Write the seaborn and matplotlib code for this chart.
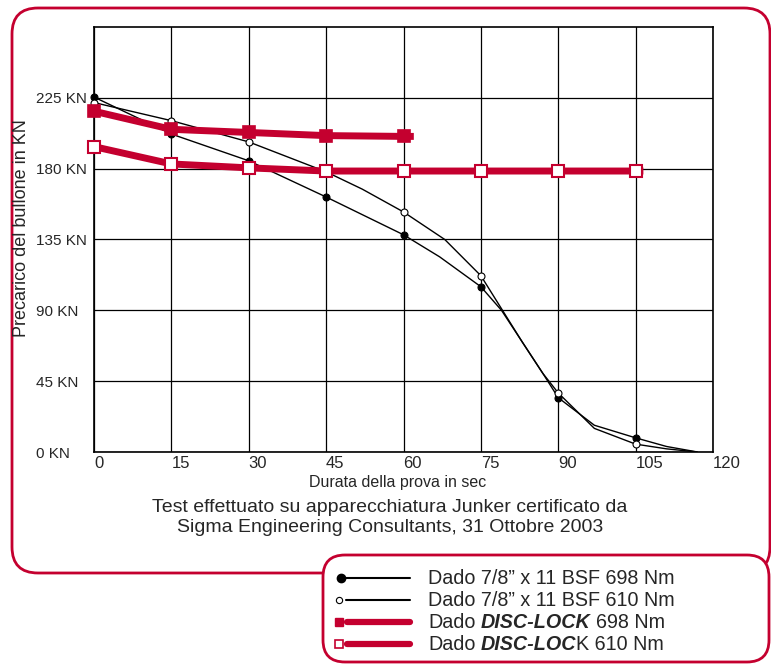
import numpy as np
import pandas as pd
import matplotlib
matplotlib.use("Agg")
import matplotlib.pyplot as plt
import seaborn as sns
from matplotlib.patches import FancyBboxPatch
from matplotlib.lines import Line2D

# Dati (tempo in sec, precarico in KN)
t_bsf_698 = [0, 15, 30, 45, 60, 67, 75, 79, 83, 87, 90, 97, 105, 111, 117]
y_bsf_698 = [225.5, 202, 185, 162, 138, 124, 105, 90, 70, 50, 34.5, 17, 9, 3.5, 0]
t_bsf_610 = [0, 15, 30, 45, 52, 60, 68, 75, 79, 83, 87, 90, 97, 105, 111, 117]
y_bsf_610 = [222, 210.5, 197, 178, 167, 152.5, 135, 112, 91, 70, 50, 37.5, 15, 5, 2, 0]
t_disc_698 = [0, 15, 30, 45, 60, 62]
y_disc_698 = [216.5, 205, 203, 201, 200.5, 200.5]
t_disc_610 = [0, 15, 30, 45, 60, 75, 90, 105, 106.5]
y_disc_610 = [194, 183, 180.5, 178.5, 178.5, 178.5, 178.5, 178.5, 178.5]
marker_times = [0, 15, 30, 45, 60, 75, 90, 105]

x_ticks = [0, 15, 30, 45, 60, 75, 90, 105, 120]
y_ticks = [0, 45, 90, 135, 180, 225]
y_labels = ["0 KN", "45 KN", "90 KN", "135 KN", "180 KN", "225 KN"]

RED = "#c4002f"

sns.set_theme(style="white")
plt.rcParams["font.family"] = ["Liberation Sans", "DejaVu Sans"]

fig = plt.figure(figsize=(7.71, 6.64), dpi=100)

# sfondo in pixel per i riquadri arrotondati
bg = fig.add_axes([0, 0, 1, 1], zorder=0)
bg.set_xlim(0, 771)
bg.set_ylim(664, 0)
bg.axis("off")
bg.add_patch(FancyBboxPatch((12, 8), 758, 565, boxstyle="round,pad=0,rounding_size=26",
                            fc="white", ec=RED, lw=2, zorder=1))
bg.add_patch(FancyBboxPatch((323, 555), 446, 107, boxstyle="round,pad=0,rounding_size=22",
                            fc="white", ec=RED, lw=2, zorder=2))

ax = fig.add_axes([94 / 771, 1 - 452 / 664, 619 / 771, 425 / 664], zorder=1)


def draw(t, y, marker, ms, mfc, mec, color, lw, mew):
    df = pd.DataFrame({"t": t, "y": y})
    sns.lineplot(data=df, x="t", y="y", ax=ax, color=color, lw=lw, sort=False,
                 estimator=None, zorder=3, solid_capstyle="butt")
    mk = df[df["t"].isin(marker_times)]
    ax.plot(mk["t"], mk["y"], ls="none", marker=marker, ms=ms, mfc=mfc, mec=mec,
            mew=mew, zorder=4, clip_on=False)


draw(t_bsf_698, y_bsf_698, "o", 5, "black", "black", "black", 1.0, 0.8)
draw(t_bsf_610, y_bsf_610, "o", 5, "white", "black", "black", 1.0, 0.8)
draw(t_disc_698, y_disc_698, "s", 8.5, RED, RED, RED, 5, 1.2)
draw(t_disc_610, y_disc_610, "s", 8.5, "white", RED, RED, 5, 1.5)

ax.set_xlim(0, 120)
ax.set_ylim(0, 270)
ax.set_xticks(x_ticks)
ax.set_yticks(y_ticks)
ax.set_yticklabels(y_labels)
ax.set_xlabel("")
ax.set_ylabel("")
ax.grid(True, color="black", lw=0.9)
for s in ax.spines.values():
    s.set_color("black")
    s.set_linewidth(1.2)
ax.tick_params(axis="y", length=0, pad=42, labelsize=11)
ax.tick_params(axis="x", length=0, pad=3, labelsize=12)
for lab in ax.get_yticklabels():
    lab.set_horizontalalignment("left")
for lab in ax.get_xticklabels():
    lab.set_horizontalalignment("left")

bg.text(398, 483, "Durata della prova in sec", ha="center", va="center", fontsize=11.5,
        zorder=5)
bg.text(22, 228, "Precarico del bullone in KN", ha="center", va="center", rotation=90,
        fontsize=13, zorder=5)
bg.text(390, 507, "Test effettuato su apparecchiatura Junker certificato da", ha="center",
        va="center", fontsize=14, zorder=5)
bg.text(390, 528, "Sigma Engineering Consultants, 31 Ottobre 2003", ha="center",
        va="center", fontsize=14, zorder=5)

# legenda disegnata a mano
rows = [578, 600, 622, 644]
bg.add_line(Line2D([346, 410], [rows[0]] * 2, color="black", lw=1.5, zorder=6))
bg.plot([341], [rows[0]], "o", ms=6, color="black", zorder=7)
bg.add_line(Line2D([346, 410], [rows[1]] * 2, color="black", lw=1.5, zorder=6))
bg.plot([339], [rows[1]], "o", ms=4.5, mfc="white", mec="black", mew=0.8, zorder=7)
bg.add_line(Line2D([347, 410], [rows[2]] * 2, color=RED, lw=4.5, zorder=6))
bg.plot([339], [rows[2]], "s", ms=5.5, color=RED, zorder=7)
bg.add_line(Line2D([347, 410], [rows[3]] * 2, color=RED, lw=4.5, zorder=6))
bg.plot([339], [rows[3]], "s", ms=5.5, mfc="white", mec=RED, mew=1.2, zorder=7)

renderer = fig.canvas.get_renderer()
legend_parts = [
    [("Dado 7/8\u201d x 11 BSF 698 Nm", "normal", "normal")],
    [("Dado 7/8\u201d x 11 BSF 610 Nm", "normal", "normal")],
    [("Dado", "normal", "normal"), ("DISC-LOCK", "bold", "italic"), ("698 Nm", "normal", "normal")],
    [("Dado", "normal", "normal"), ("DISC-LOC", "bold", "italic"), ("K 610 Nm", "normal", "normal")],
]
gaps = [[], [], [5.4, 5.4], [5.4, 0]]
for i, parts in enumerate(legend_parts):
    x = 428
    for j, (txt, w, st) in enumerate(parts):
        t = bg.text(x, rows[i], txt, ha="left", va="center", fontsize=14.2, fontweight=w,
                    fontstyle=st, zorder=7)
        bb = t.get_window_extent(renderer)
        if j < len(gaps[i]):
            x = bb.x1 + gaps[i][j]

fig.savefig("out.png", dpi=100, facecolor="white")
